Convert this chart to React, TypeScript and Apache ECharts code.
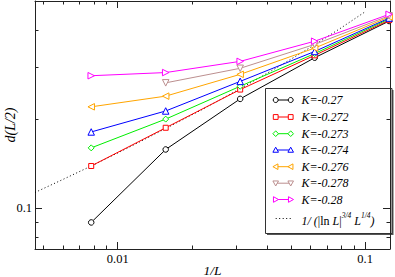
import React, { useEffect, useRef } from 'react';
import * as echarts from 'echarts';

// 1/L values
const invL = [1 / 128, 1 / 64, 1 / 32, 1 / 16, 1 / 8];
const seriesNames = ['K=-0.27', 'K=-0.272', 'K=-0.273', 'K=-0.274', 'K=-0.276', 'K=-0.278', 'K=-0.28'];
const k027 = [0.0897, 0.158, 0.234, 0.322, 0.428];
const k0272 = [0.139, 0.187, 0.2515, 0.328, 0.431];
const k0273 = [0.16, 0.2, 0.258, 0.3325, 0.435];
const k0274 = [0.181, 0.213, 0.268, 0.338, 0.438];
const k0276 = [0.22, 0.239, 0.283, 0.347, 0.442];
const k0278 = [null, 0.265, 0.2966, 0.357, 0.446];
const k028 = [0.28, 0.287, 0.313, 0.366, 0.451];
const seriesValues = [k027, k0272, k0273, k0274, k0276, k0278, k028];

// dotted reference curve
const fitX = [0.00463, 0.006, 0.0078125, 0.011, 0.015625, 0.022, 0.03125, 0.044, 0.0625, 0.08, 0.1];
const fitY = [0.1132, 0.1252, 0.139, 0.16, 0.186, 0.2157, 0.2533, 0.2982, 0.356, 0.406, 0.46];

// minor ticks
const xMinorTicks = [0.005, 0.006, 0.007, 0.008, 0.009, 0.02, 0.03, 0.04, 0.05, 0.06, 0.07, 0.08, 0.09];
const yMinorTicks = [0.08, 0.09, 0.2, 0.3, 0.4];

const X_MIN = 0.00463;
const X_MAX = 0.126;
const Y_MIN = 0.073;
const Y_MAX = 0.5;

const colors = ['#000000', '#ff0000', '#00ee00', '#0000ff', '#ffa500', '#bc8f8f', '#ff00ff'];
const symbols = ['circle', 'rect', 'diamond', 'triangle', 'triangle', 'triangle', 'triangle'];
const rotations = [0, 0, 0, 0, 90, 180, -90];
const symSizes = [5.5, 5, 6, 6.5, 6.5, 6.5, 6.5];

const FONT = '"Liberation Serif", "DejaVu Serif", serif';
const AXIS_COLOR = '#222';

function legendSymbol(kind: number, cx: number, cy: number, color: string) {
  const style = { fill: '#fff', stroke: color, lineWidth: 1 };
  const s = 2.8;
  switch (kind) {
    case 0:
      return { type: 'circle', shape: { cx, cy, r: 2.5 }, style };
    case 1:
      return { type: 'rect', shape: { x: cx - 2.4, y: cy - 2.4, width: 4.8, height: 4.8 }, style };
    case 2:
      return { type: 'polygon', shape: { points: [[cx, cy - s], [cx + s, cy], [cx, cy + s], [cx - s, cy]] }, style };
    case 3:
      return { type: 'polygon', shape: { points: [[cx, cy - s], [cx + s, cy + s * 0.8], [cx - s, cy + s * 0.8]] }, style };
    case 4:
      return { type: 'polygon', shape: { points: [[cx - s, cy], [cx + s * 0.8, cy - s], [cx + s * 0.8, cy + s]] }, style };
    case 5:
      return { type: 'polygon', shape: { points: [[cx, cy + s], [cx + s, cy - s * 0.8], [cx - s, cy - s * 0.8]] }, style };
    default:
      return { type: 'polygon', shape: { points: [[cx + s, cy], [cx - s * 0.8, cy - s], [cx - s * 0.8, cy + s]] }, style };
  }
}

export default function App() {
  const ref = useRef<HTMLDivElement>(null);
  useEffect(() => {
    if (!ref.current) return;
    const chart = echarts.init(ref.current, null, { renderer: 'svg' });

    const lineSeries = seriesNames.map((name, i) => ({
      name,
      type: 'line',
      data: invL
        .map((x, j) => [x, seriesValues[i][j]])
        .filter((p) => p[1] !== null),
      symbol: symbols[i],
      symbolRotate: rotations[i],
      symbolSize: symSizes[i],
      showAllSymbol: true,
      itemStyle: { color: '#fff', borderColor: colors[i], borderWidth: 1 },
      lineStyle: { color: colors[i], width: 1 },
      z: 3,
    }));

    const fitSeries = {
      name: 'fit',
      type: 'line',
      data: fitX.map((x, j) => [x, fitY[j]]),
      symbol: 'none',
      smooth: false,
      lineStyle: { color: '#000', width: 1, type: [1, 2.5] },
      z: 2,
    };

    const tickLen = 3.5;
    const xMinorSeries = {
      type: 'custom',
      data: xMinorTicks.map((v) => [v, Y_MIN]),
      silent: true,
      renderItem: (params: any, api: any) => {
        const cs = params.coordSys;
        const x = Math.round(api.coord([api.value(0), api.value(1)])[0]) + 0.5;
        const st = { stroke: AXIS_COLOR, lineWidth: 1 };
        return {
          type: 'group',
          children: [
            { type: 'line', shape: { x1: x, y1: cs.y + cs.height, x2: x, y2: cs.y + cs.height - tickLen }, style: st },
            { type: 'line', shape: { x1: x, y1: cs.y, x2: x, y2: cs.y + tickLen }, style: st },
          ],
        };
      },
    };
    const yMinorSeries = {
      type: 'custom',
      data: yMinorTicks.map((v) => [X_MIN, v]),
      silent: true,
      renderItem: (params: any, api: any) => {
        const cs = params.coordSys;
        const y = Math.round(api.coord([api.value(0), api.value(1)])[1]) + 0.5;
        const st = { stroke: AXIS_COLOR, lineWidth: 1 };
        return {
          type: 'group',
          children: [
            { type: 'line', shape: { x1: cs.x, y1: y, x2: cs.x + tickLen, y2: y }, style: st },
            { type: 'line', shape: { x1: cs.x + cs.width, y1: y, x2: cs.x + cs.width - tickLen, y2: y }, style: st },
          ],
        };
      },
    };

    const axisCommon = {
      type: 'log',
      logBase: 10,
      splitLine: { show: false },
      axisLine: { show: true, onZero: false, lineStyle: { color: AXIS_COLOR, width: 1 } },
      axisTick: { show: true, inside: true, length: 7, lineStyle: { color: AXIS_COLOR, width: 1 } },
    };

    // legend graphic
    const lgX = 265.5;
    const lgY = 88.5;
    const lgW = 126.5;
    const lgH = 145;
    const rowY = [100, 117, 133.7, 150, 166.7, 183.2, 199.5];
    const symL = 275.7;
    const symR = 290.7;
    const textX = 301.5;
    const legendChildren: any[] = [
      { type: 'rect', shape: { x: lgX + 1.5, y: lgY + 1.5, width: lgW, height: lgH }, style: { fill: '#555', stroke: 'none' } },
      { type: 'rect', shape: { x: lgX, y: lgY, width: lgW, height: lgH }, style: { fill: '#fff', stroke: '#333', lineWidth: 1 } },
    ];
    seriesNames.forEach((name, i) => {
      const y = rowY[i];
      legendChildren.push({ type: 'line', shape: { x1: symL, y1: y, x2: symR, y2: y }, style: { stroke: colors[i], lineWidth: 1 } });
      legendChildren.push(legendSymbol(i, symL, y, colors[i]));
      legendChildren.push(legendSymbol(i, symR, y, colors[i]));
      legendChildren.push({
        type: 'text',
        x: textX,
        y,
        style: { text: name, fontFamily: FONT, fontStyle: 'italic', fontSize: 12, fill: '#000', verticalAlign: 'middle', align: 'left' },
      });
    });
    legendChildren.push({ type: 'line', shape: { x1: symL, y1: 218.5, x2: symR, y2: 218.5 }, style: { stroke: '#000', lineWidth: 1, lineDash: [1, 2.5] } });
    legendChildren.push({
      type: 'text',
      x: textX,
      y: 219,
      style: {
        text: '{i|1/ (}{n||ln }{i|L}{n||}{s|3/4}{i| L}{s|1/4}{i|)}',
        verticalAlign: 'middle',
        align: 'left',
        fill: '#000',
        rich: {
          i: { fontFamily: FONT, fontStyle: 'italic', fontSize: 12, lineHeight: 16, verticalAlign: 'bottom', fill: '#000' },
          n: { fontFamily: FONT, fontSize: 12, lineHeight: 16, verticalAlign: 'bottom', fill: '#000' },
          s: { fontFamily: FONT, fontStyle: 'italic', fontSize: 7.5, lineHeight: 16, verticalAlign: 'top', fill: '#000' },
        },
      },
    });

    chart.setOption({
      animation: false,
      backgroundColor: '#fff',
      grid: { left: 35, right: 5, top: 1, bottom: 28, containLabel: false, outerBoundsMode: 'none' },
      xAxis: [
        {
          ...axisCommon,
          position: 'bottom',
          min: X_MIN,
          max: X_MAX,
          name: '1/L',
          nameLocation: 'middle',
          nameGap: 14,
          nameMoveOverlap: false,
          nameTextStyle: { fontFamily: FONT, fontStyle: 'italic', fontSize: 13.5, color: '#000' },
          axisLabel: {
            show: true,
            margin: 3,
            showMinLabel: false,
            showMaxLabel: false,
            fontFamily: FONT,
            fontSize: 12.5,
            color: '#000',
            formatter: (v: number) => String(parseFloat(v.toPrecision(3))),
          },
        },
        {
          ...axisCommon,
          position: 'top',
          min: X_MIN,
          max: X_MAX,
          axisLabel: { show: false },
        },
      ],
      yAxis: [
        {
          ...axisCommon,
          position: 'left',
          min: Y_MIN,
          max: Y_MAX,
          name: 'd(L/2)',
          nameLocation: 'middle',
          nameGap: 18,
          nameMoveOverlap: false,
          nameTextStyle: { fontFamily: FONT, fontStyle: 'italic', fontSize: 14, color: '#000' },
          axisLabel: {
            show: true,
            margin: 3,
            showMinLabel: false,
            showMaxLabel: false,
            fontFamily: FONT,
            fontSize: 12.5,
            color: '#000',
            formatter: (v: number) => String(parseFloat(v.toPrecision(3))),
          },
        },
        {
          ...axisCommon,
          position: 'right',
          min: Y_MIN,
          max: Y_MAX,
          axisLabel: { show: false },
        },
      ],
      series: [...lineSeries, fitSeries, xMinorSeries, yMinorSeries],
      graphic: [{ type: 'group', children: legendChildren, z: 100 }],
    });

    return () => chart.dispose();
  }, []);

  return <div ref={ref} style={{ position: 'fixed', left: 0, top: 0, width: 395, height: 277 }} />;
}
